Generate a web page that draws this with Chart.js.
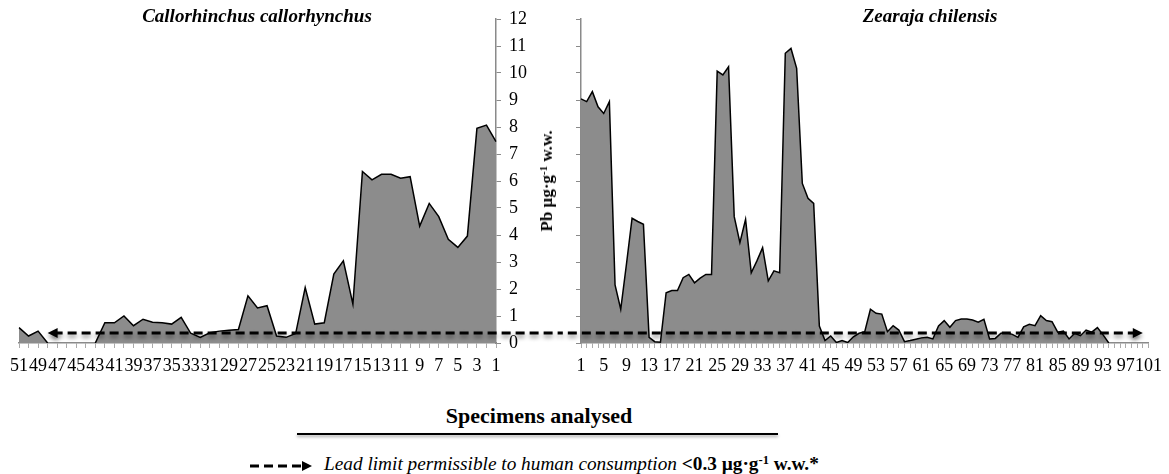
<!DOCTYPE html>
<html>
<head>
<meta charset="utf-8">
<script src="https://cdn.jsdelivr.net/npm/chart.js@4.4.0/dist/chart.umd.min.js"></script>
<style>
  body { margin: 0; background: #fff; width: 1169px; height: 474px; position: relative; overflow: hidden;
         font-family: "Liberation Serif", "Times New Roman", serif; color: #000; }
  canvas { position: absolute; top: 0; }
  #leftChart { left: 0; }
  #rightChart { left: 560px; }
  .title { position: absolute; top: 5px; font-weight: bold; font-style: italic; font-size: 19px;
           transform: translateX(-50%); white-space: nowrap; }
  #yTitle { position: absolute; left: 547px; top: 181px; transform: translate(-50%, -50%) rotate(-90deg);
            font-weight: bold; font-size: 17px; white-space: nowrap; }
  #xTitle { position: absolute; left: 539px; top: 403px; transform: translateX(-50%);
            font-weight: bold; font-size: 22px; white-space: nowrap; }
  #xLine { position: absolute; left: 297px; top: 433px; width: 481px; height: 2px; background: #000;
           box-shadow: 0 2px 3px rgba(0,0,0,0.35); }
  #legend { position: absolute; left: 250px; top: 453px; white-space: nowrap; font-size: 19.3px; }
  #legend svg { vertical-align: middle; margin-right: 12px; }
  sup { font-size: 0.65em; vertical-align: 0.45em; line-height: 0; }
</style>
</head>
<body>
<canvas id="leftChart" width="560" height="380"></canvas>
<canvas id="rightChart" width="609" height="380"></canvas>
<div class="title" style="left:257px">Callorhinchus callorhynchus</div>
<div class="title" style="left:930px">Zearaja chilensis</div>
<div id="yTitle">Pb µg·g<sup>-1</sup> w.w.</div>
<div id="xTitle">Specimens analysed</div>
<div id="xLine"></div>
<div id="legend"><svg width="62" height="14"><line x1="0" y1="7" x2="52" y2="7" stroke="#000" stroke-width="3" stroke-dasharray="9,5"/><polygon points="62,7 52,2 52,12" fill="#000"/></svg><i>Lead limit permissible to human consumption</i> <b>&lt;0.3 µg·g<sup>-1</sup> w.w.*</b></div>

<script>
// Pb (µg/g w.w.) per specimen, index 0 = specimen 1
const callorhinchus = [
  7.46, 8.07, 7.95, 3.96, 3.54, 3.84, 4.68, 5.17, 4.33, 6.16,
  6.10, 6.25, 6.25, 6.04, 6.35, 1.44, 3.04, 2.55, 0.75, 0.70,
  2.05, 0.35, 0.21, 0.26, 1.38, 1.30, 1.75, 0.50, 0.47, 0.44,
  0.38, 0.21, 0.36, 0.95, 0.70, 0.75, 0.77, 0.88, 0.64, 1.00,
  0.75, 0.75, 0, null, null, null, null, 0, 0.44, 0.26,
  0.57
];

const zearaja = [
  9.04, 8.94, 9.31, 8.75, 8.50, 8.94, 2.15, 1.25, 2.90, 4.62,
  4.50, 4.40, 0.21, 0.05, 0.03, 1.86, 1.94, 1.94, 2.42, 2.54,
  2.23, 2.40, 2.54, 2.54, 10.07, 9.93, 10.23, 4.68, 3.72, 4.58,
  2.60, 3.04, 3.53, 2.30, 2.67, 2.60, 10.73, 10.91, 10.17, 5.91,
  5.36, 5.17, 0.63, 0.09, 0.26, 0.02, 0.09, 0.02, 0.23, 0.36,
  0.42, 1.25, 1.10, 1.07, 0.42, 0.64, 0.48, 0.05, 0.09, 0.14,
  0.19, 0.21, 0.15, 0.63, 0.83, 0.58, 0.83, 0.89, 0.89, 0.85,
  0.77, 0.88, 0.15, 0.17, 0.36, 0.38, 0.32, 0.21, 0.60, 0.69,
  0.64, 1.01, 0.83, 0.79, 0.40, 0.44, 0.15, 0.36, 0.27, 0.48,
  0.40, 0.57, 0.30, 0, null, null, null, null, null, null,
  null
];

const callLabels = callorhinchus.map((v, i) => String(i + 1));
const zearLabels = zearaja.map((v, i) => String(i + 1));

const limitValue = 0.37;     // drawn position of the 0.3 µg/g limit arrow
const leftArrowAt = 47;      // index of specimen 48
const rightArrowAt = 99;     // index of specimen 100

const serif = "'Liberation Serif', 'Times New Roman', serif";
const axisGrey = '#8a8a8a';

// dashed limit arrow with a soft shadow
function limitArrow(direction, tipIndex) {
  return {
    id: 'limitArrow',
    afterDatasetsDraw(chart) {
      const ctx = chart.ctx;
      const y = chart.scales.y.getPixelForValue(limitValue);
      const tip = chart.scales.x.getPixelForValue(tipIndex);
      const far = direction === 'left' ? chart.width : 0;
      const start = direction === 'left' ? tip + 6 : tip - 6;
      ctx.save();
      ctx.shadowColor = 'rgba(0,0,0,0.45)';
      ctx.shadowBlur = 4;
      ctx.shadowOffsetY = 3;
      ctx.strokeStyle = '#000';
      ctx.lineWidth = 3;
      ctx.setLineDash([9, 5]);
      ctx.beginPath();
      ctx.moveTo(start, y);
      ctx.lineTo(far, y);
      ctx.stroke();
      ctx.setLineDash([]);
      const back = direction === 'left' ? tip + 10 : tip - 10;
      ctx.fillStyle = '#000';
      ctx.beginPath();
      ctx.moveTo(tip, y);
      ctx.lineTo(back, y - 5);
      ctx.lineTo(back, y + 5);
      ctx.closePath();
      ctx.fill();
      ctx.restore();
    }
  };
}

function areaDataset(values) {
  return {
    data: values,
    borderColor: '#000',
    borderWidth: 1.5,
    backgroundColor: '#8c8c8c',
    fill: 'origin',
    tension: 0,
    pointRadius: 0,
    spanGaps: false
  };
}

new Chart(document.getElementById('leftChart'), {
  type: 'line',
  data: { labels: callLabels, datasets: [areaDataset(callorhinchus)] },
  options: {
    responsive: false,
    animation: false,
    layout: { padding: { left: 19, top: 19, right: 0, bottom: 0 } },
    plugins: { legend: { display: false }, tooltip: { enabled: false } },
    scales: {
      x: {
        reverse: true,
        offset: false,
        border: { color: axisGrey, width: 1.5 },
        grid: { drawOnChartArea: false, color: '#aaa', tickLength: 5 },
        ticks: {
          autoSkip: false, maxRotation: 0, minRotation: 0, padding: 7,
          color: '#000', font: { family: serif, size: 18 },
          callback: (v, i) => (i % 2 === 0 ? callLabels[i] : '')
        },
        afterFit: s => { s.height = 37; }
      },
      y: {
        position: 'right',
        min: 0, max: 12,
        border: { color: axisGrey, width: 1.5 },
        grid: { drawOnChartArea: false, color: axisGrey, tickLength: 5 },
        ticks: { stepSize: 1, padding: 8, color: '#000', font: { family: serif, size: 18 } },
        afterFit: s => { s.width = 64; }
      }
    }
  },
  plugins: [limitArrow('left', leftArrowAt)]
});

new Chart(document.getElementById('rightChart'), {
  type: 'line',
  data: { labels: zearLabels, datasets: [areaDataset(zearaja)] },
  options: {
    responsive: false,
    animation: false,
    layout: { padding: { left: 0, top: 19, right: 14, bottom: 0 } },
    plugins: { legend: { display: false }, tooltip: { enabled: false } },
    scales: {
      x: {
        offset: false,
        border: { color: axisGrey, width: 1.5 },
        grid: { drawOnChartArea: false, color: '#aaa', tickLength: 5 },
        ticks: {
          autoSkip: false, maxRotation: 0, minRotation: 0, padding: 7,
          color: '#000', font: { family: serif, size: 18 },
          callback: (v, i) => (i % 4 === 0 ? zearLabels[i] : '')
        },
        afterFit: s => { s.height = 37; }
      },
      y: {
        position: 'left',
        min: 0, max: 12,
        border: { color: axisGrey, width: 1.5 },
        grid: { drawOnChartArea: false, color: axisGrey, tickLength: 5 },
        ticks: { stepSize: 1, display: false },
        afterFit: s => { s.width = 21; }
      }
    }
  },
  plugins: [limitArrow('right', rightArrowAt)]
});
</script>
</body>
</html>
